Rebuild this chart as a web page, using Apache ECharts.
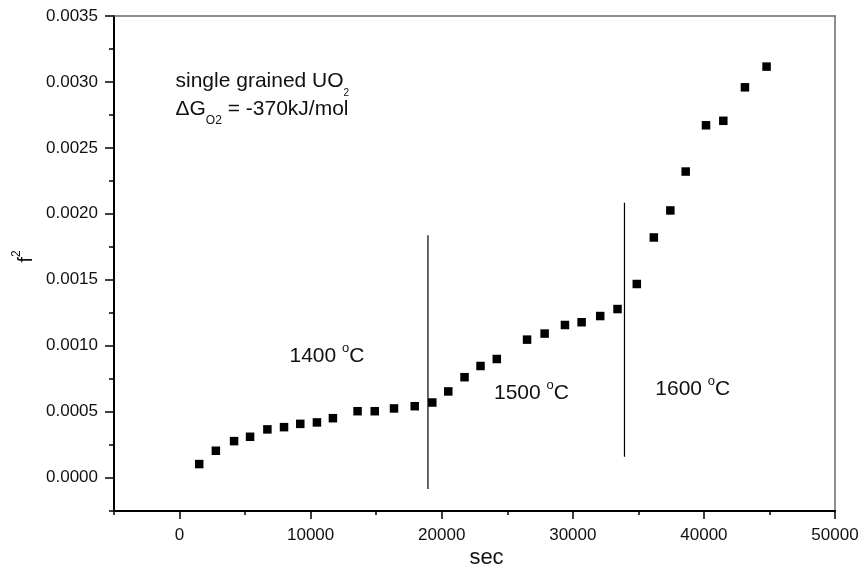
<!DOCTYPE html>
<html>
<head>
<meta charset="utf-8">
<script src="https://cdn.jsdelivr.net/npm/echarts@6/dist/echarts.min.js"></script>
<style>
html,body{margin:0;padding:0;background:#fff;}
#chart{width:863px;height:577px;}
</style>
</head>
<body>
<div id="chart"></div>
<script>
// ---- data ----
const sec = [1500, 2770, 4160, 5380, 6700, 7970, 9210, 10480, 11700, 13580, 14890, 16360, 17940, 19280,
             20500, 21740, 22960, 24200, 26510, 27850, 29400, 30670, 32090, 33410,
             34880, 36180, 37440, 38610, 40160, 41480, 43130, 44780];
const f2 = [0.000101, 0.000202, 0.000275, 0.000308, 0.000364, 0.000381, 0.000406, 0.000417, 0.000449, 0.000502, 0.000502, 0.000523, 0.00054, 0.000568,
            0.000652, 0.00076, 0.000845, 0.000898, 0.001045, 0.001091, 0.001156, 0.001177, 0.001224, 0.001277,
            0.001467, 0.00182, 0.002025, 0.00232, 0.002671, 0.002705, 0.002959, 0.003116];
// boundary lines between temperature regimes
const line1X = [18950, 18950];
const line1Y = [0.001836, -0.000089];
const line2X = [33940, 33940];
const line2Y = [0.002083, 0.000156];
// axis ticks
const xMajorTicks = [0, 10000, 20000, 30000, 40000, 50000];
const xMinorTicks = [-5000, 5000, 15000, 25000, 35000, 45000];
const yMajorTicks = [0, 0.0005, 0.001, 0.0015, 0.002, 0.0025, 0.003, 0.0035];
const yMinorTicks = [-0.00025, 0.00025, 0.00075, 0.00125, 0.00175, 0.00225, 0.00275, 0.00325];
const xRange = [-5000, 50000];
const yRange = [-0.000255, 0.0035];

const FONT = 'Liberation Sans, Arial, sans-serif';
const TXT = '#111';

const chart = echarts.init(document.getElementById('chart'), null, {renderer: 'canvas'});

const baseX = {
  type: 'value', min: xRange[0], max: xRange[1], gridIndex: 0,
  splitLine: {show: false}
};
const baseY = {
  type: 'value', min: yRange[0], max: yRange[1], gridIndex: 0,
  splitLine: {show: false}
};

const option = {
  animation: false,
  backgroundColor: '#fff',
  grid: {left: 114, right: 28, top: 16, bottom: 66, containLabel: false},
  xAxis: [
    Object.assign({}, baseX, {
      position: 'bottom',
      name: 'sec', nameLocation: 'middle', nameGap: 36, nameMoveOverlap: false,
      nameTextStyle: {fontFamily: FONT, fontSize: 22, color: TXT, padding: [0, 0, 0, 24]},
      axisLine: {show: true, onZero: false, lineStyle: {color: '#000', width: 2}},
      axisTick: {show: true, inside: false, length: 8, lineStyle: {color: '#000', width: 1.5}, customValues: xMajorTicks},
      axisLabel: {show: true, margin: 16, fontFamily: FONT, fontSize: 17, color: TXT,
                  customValues: xMajorTicks, formatter: v => String(v)}
    }),
    Object.assign({}, baseX, {
      position: 'bottom',
      axisLine: {show: false, onZero: false},
      axisTick: {show: true, inside: false, length: 4, lineStyle: {color: '#000', width: 1.5}, customValues: xMinorTicks},
      axisLabel: {show: false}
    }),
    Object.assign({}, baseX, {
      position: 'top',
      axisLine: {show: true, onZero: false, lineStyle: {color: '#6a6a6a', width: 1.5}},
      axisTick: {show: false},
      axisLabel: {show: false}
    })
  ],
  yAxis: [
    Object.assign({}, baseY, {
      position: 'left',
      name: 'f{sup|2}', nameLocation: 'middle', nameGap: 72, nameMoveOverlap: false,
      nameTextStyle: {fontFamily: FONT, fontSize: 20, color: TXT, lineHeight: 31, padding: [0, 0, 0, 14],
                      rich: {sup: {fontFamily: FONT, fontSize: 12, lineHeight: 12, verticalAlign: 'top', color: TXT}}},
      axisLine: {show: true, onZero: false, lineStyle: {color: '#000', width: 2}},
      axisTick: {show: true, inside: false, length: 9, lineStyle: {color: '#000', width: 1.5}, customValues: yMajorTicks},
      axisLabel: {show: true, margin: 16, fontFamily: FONT, fontSize: 17, color: TXT,
                  customValues: yMajorTicks, formatter: v => Number(v).toFixed(4)}
    }),
    Object.assign({}, baseY, {
      position: 'left',
      axisLine: {show: false, onZero: false},
      axisTick: {show: true, inside: false, length: 5, lineStyle: {color: '#000', width: 1.5}, customValues: yMinorTicks},
      axisLabel: {show: false}
    }),
    Object.assign({}, baseY, {
      position: 'right',
      axisLine: {show: true, onZero: false, lineStyle: {color: '#6a6a6a', width: 1.5}},
      axisTick: {show: false},
      axisLabel: {show: false}
    })
  ],
  series: [
    {
      type: 'scatter', xAxisIndex: 0, yAxisIndex: 0,
      symbol: 'rect', symbolSize: 8.5,
      itemStyle: {color: '#000', opacity: 1},
      data: sec.map((x, i) => [x, f2[i]])
    },
    {
      type: 'line', xAxisIndex: 0, yAxisIndex: 0, showSymbol: false, symbol: 'none',
      lineStyle: {color: '#000', width: 1.2},
      data: line1X.map((x, i) => [x, line1Y[i]])
    },
    {
      type: 'line', xAxisIndex: 0, yAxisIndex: 0, showSymbol: false, symbol: 'none',
      lineStyle: {color: '#000', width: 1.2},
      data: line2X.map((x, i) => [x, line2Y[i]])
    }
  ],
  graphic: [
    {
      type: 'text', x: 175.5, y: 64.7,
      style: {
        text: 'single grained UO{sub|2}',
        fontFamily: FONT, fontSize: 21, lineHeight: 34, fill: TXT,
        textVerticalAlign: 'top',
        rich: {sub: {fontFamily: FONT, fontSize: 10, lineHeight: 12, verticalAlign: 'bottom', fill: TXT, color: TXT}}
      }
    },
    {
      type: 'text', x: 175.5, y: 91.8,
      style: {
        text: '\u0394G{sub|O2} = -370kJ/mol',
        fontFamily: FONT, fontSize: 21, lineHeight: 35, fill: TXT,
        textVerticalAlign: 'top',
        rich: {sub: {fontFamily: FONT, fontSize: 12, lineHeight: 12, verticalAlign: 'bottom', fill: TXT, color: TXT}}
      }
    },
    {
      type: 'text', x: 289.5, y: 341.5,
      style: {
        text: '1400 {sup|o}C',
        fontFamily: FONT, fontSize: 21, lineHeight: 29, fill: TXT, textVerticalAlign: 'top',
        rich: {sup: {fontFamily: FONT, fontSize: 13, lineHeight: 13, verticalAlign: 'top', fill: TXT, color: TXT}}
      }
    },
    {
      type: 'text', x: 494, y: 379.2,
      style: {
        text: '1500 {sup|o}C',
        fontFamily: FONT, fontSize: 21, lineHeight: 29, fill: TXT, textVerticalAlign: 'top',
        rich: {sup: {fontFamily: FONT, fontSize: 13, lineHeight: 13, verticalAlign: 'top', fill: TXT, color: TXT}}
      }
    },
    {
      type: 'text', x: 655.3, y: 374.9,
      style: {
        text: '1600 {sup|o}C',
        fontFamily: FONT, fontSize: 21, lineHeight: 29, fill: TXT, textVerticalAlign: 'top',
        rich: {sup: {fontFamily: FONT, fontSize: 13, lineHeight: 13, verticalAlign: 'top', fill: TXT, color: TXT}}
      }
    }
  ]
};
chart.setOption(option);
</script>
</body>
</html>
